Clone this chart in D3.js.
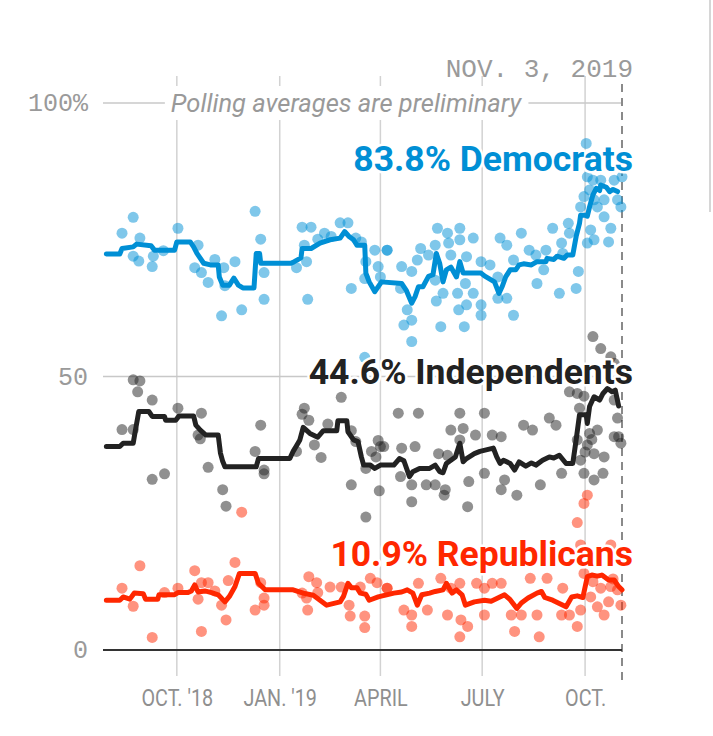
<!DOCTYPE html>
<html>
<head>
<meta charset="utf-8">
<script src="https://cdn.jsdelivr.net/npm/d3@7"></script>
<style>
  body { margin: 0; background: #fff; }
  svg { display: block; }
</style>
</head>
<body>
<div id="chart"></div>
<script>
// trend lines, [date, value]
var demTrend = [["2018-07-30",72.4],["2018-08-11",72.4],["2018-08-13",73.4],["2018-08-23",73.7],["2018-08-26",74.2],["2018-09-08",73.9],["2018-09-11",73.1],["2018-09-29",73.1],["2018-10-01",74.6],["2018-10-13",74.6],["2018-10-16",73.7],["2018-10-19",72.5],["2018-10-25",70.7],["2018-10-31",70.4],["2018-11-07",70.4],["2018-11-08",68.2],["2018-11-11",66.7],["2018-11-17",66.7],["2018-11-21",68],["2018-11-25",66.7],["2018-11-29",66.2],["2018-12-09",66.2],["2018-12-11",72.5],["2018-12-14",72.5],["2018-12-15",70.7],["2019-01-11",70.7],["2019-01-14",71],["2019-01-20",71.7],["2019-01-21",73.4],["2019-01-29",73.4],["2019-02-06",74.4],["2019-02-15",75],["2019-02-24",75.3],["2019-02-28",76.5],["2019-03-04",75.6],["2019-03-08",75],["2019-03-11",74],["2019-03-18",74],["2019-03-19",68.9],["2019-03-22",67.3],["2019-03-27",65.5],["2019-04-02",67.3],["2019-04-20",67],["2019-04-24",65.8],["2019-04-29",63.4],["2019-05-02",64.6],["2019-05-05",66.4],["2019-05-09",66.4],["2019-05-14",68.3],["2019-05-18",68.6],["2019-05-21",72.5],["2019-05-24",70.7],["2019-05-27",67.3],["2019-05-30",69.5],["2019-06-03",70],["2019-06-08",68.2],["2019-06-11",71],["2019-06-14",68.9],["2019-06-30",68.9],["2019-07-03",68.4],["2019-07-12",67.3],["2019-07-16",65.2],["2019-07-19",66.5],["2019-07-22",68.2],["2019-07-26",69.5],["2019-07-31",69.5],["2019-08-03",70.4],["2019-08-07",70.6],["2019-08-14",70.4],["2019-08-19",71],["2019-08-27",71],["2019-08-28",71.6],["2019-09-03",71.4],["2019-09-06",72],["2019-09-12",71.6],["2019-09-15",72.2],["2019-09-20",72.2],["2019-09-23",75.6],["2019-09-26",78],["2019-09-27",79.5],["2019-10-01",79.5],["2019-10-03",79.3],["2019-10-05",81],["2019-10-08",83.2],["2019-10-11",84.4],["2019-10-14",84],["2019-10-15",85],["2019-10-20",84.6],["2019-10-23",83.8],["2019-10-26",84.2],["2019-10-30",83.8]];

var indTrend = [["2018-07-30",37.2],["2018-08-11",37.2],["2018-08-14",37.8],["2018-08-23",37.8],["2018-08-25",40.2],["2018-08-28",43.6],["2018-09-06",43.6],["2018-09-09",42.7],["2018-09-20",42.7],["2018-09-21",42],["2018-09-30",42],["2018-10-03",42.8],["2018-10-16",42.8],["2018-10-18",41.1],["2018-10-22",40.2],["2018-10-27",39.3],["2018-11-07",39.3],["2018-11-09",36],["2018-11-11",34.5],["2018-11-13",33.5],["2018-12-11",33.5],["2018-12-13",35],["2019-01-10",35],["2019-01-13",36.3],["2019-01-19",38.4],["2019-01-22",40.7],["2019-01-28",39.6],["2019-02-04",38.9],["2019-02-09",40.1],["2019-02-21",40.1],["2019-02-22",41.9],["2019-03-02",41.9],["2019-03-03",39.9],["2019-03-08",38.4],["2019-03-12",38.1],["2019-03-15",35.3],["2019-03-17",33.8],["2019-03-23",33.8],["2019-03-27",33.2],["2019-04-01",33.8],["2019-04-13",33.8],["2019-04-18",35],["2019-04-22",34.6],["2019-04-27",31.7],["2019-04-30",32.6],["2019-05-06",33.2],["2019-05-15",33.2],["2019-05-20",33.8],["2019-05-24",32.6],["2019-05-27",32.4],["2019-05-30",34.1],["2019-06-07",35.3],["2019-06-11",37.8],["2019-06-14",34.4],["2019-06-17",35],["2019-06-24",35.9],["2019-06-29",36.3],["2019-07-11",36.9],["2019-07-14",35.3],["2019-07-17",34.1],["2019-07-20",34.7],["2019-07-26",34.1],["2019-07-30",32.9],["2019-08-03",34.4],["2019-08-09",33.6],["2019-08-14",34.2],["2019-08-18",33.8],["2019-08-24",34.7],["2019-08-30",35.3],["2019-09-03",35.1],["2019-09-08",35.6],["2019-09-14",34.1],["2019-09-20",34.1],["2019-09-23",38.4],["2019-09-26",43],["2019-10-02",43],["2019-10-03",41.4],["2019-10-05",44.5],["2019-10-09",46.3],["2019-10-14",45.7],["2019-10-17",46.9],["2019-10-21",47.8],["2019-10-25",47.2],["2019-10-28",47.5],["2019-10-31",44.6]];

var repTrend = [["2018-07-30",9.1],["2018-08-11",9.1],["2018-08-14",9.7],["2018-08-20",9.3],["2018-08-24",10.4],["2018-09-01",10.3],["2018-09-03",9.3],["2018-09-14",9.3],["2018-09-15",10.1],["2018-09-29",10.1],["2018-10-02",10.5],["2018-10-11",10.5],["2018-10-14",10.8],["2018-10-17",11.9],["2018-10-20",10.6],["2018-10-26",10.8],["2018-11-01",10.5],["2018-11-07",10.1],["2018-11-13",8.8],["2018-11-17",9.8],["2018-11-22",11.6],["2018-11-26",14],["2018-12-10",14],["2018-12-13",12.2],["2018-12-19",11],["2019-01-13",11],["2019-01-22",10.4],["2019-01-31",10],["2019-02-06",9.1],["2019-02-12",8.2],["2019-02-24",8.8],["2019-02-27",9.8],["2019-03-03",12.2],["2019-03-06",11.4],["2019-03-11",11.4],["2019-03-14",10.4],["2019-03-19",10.2],["2019-03-22",9.1],["2019-03-30",9.7],["2019-04-13",10.4],["2019-04-20",10.6],["2019-04-25",11],["2019-04-30",10.4],["2019-05-04",8.2],["2019-05-08",10.1],["2019-05-15",10.4],["2019-05-20",10.7],["2019-05-27",11],["2019-05-30",12.2],["2019-06-04",10.4],["2019-06-08",11],["2019-06-13",10.1],["2019-06-16",8.2],["2019-06-24",8.8],["2019-07-03",9.1],["2019-07-09",8.9],["2019-07-15",9.5],["2019-07-21",10.1],["2019-07-26",9.2],["2019-08-01",7.6],["2019-08-05",8.6],["2019-08-11",9.5],["2019-08-19",10.4],["2019-08-23",10.7],["2019-08-26",9.6],["2019-09-02",9.1],["2019-09-08",8.5],["2019-09-14",7.9],["2019-09-19",9.7],["2019-09-24",9.9],["2019-09-29",9.6],["2019-10-03",13.4],["2019-10-07",13.7],["2019-10-12",13.5],["2019-10-16",13.7],["2019-10-22",12.8],["2019-10-27",12.8],["2019-10-31",11.6],["2019-11-03",11]];

// individual polls, [date, value]
var demPolls = [["2018-08-23",79.1],["2018-08-13",76.2],["2018-08-29",75.3],["2018-08-23",72],["2018-08-28",71.1],["2018-09-10",72],["2018-09-09",70.1],["2018-09-19",73],["2018-10-02",77.1],["2018-10-20",74],["2018-10-17",69.9],["2018-10-23",69],["2018-10-29",67.2],["2018-11-04",71.4],["2018-11-12",69.9],["2018-11-13",66.6],["2018-11-22",71],["2018-11-10",61.1],["2018-11-28",62.2],["2018-12-10",80.2],["2018-12-15",75.1],["2018-12-18",69],["2018-12-18",64.1],["2019-01-16",69.9],["2019-01-21",77.3],["2019-01-29",77.3],["2019-01-23",74],["2019-01-25",71],["2019-01-26",64.1],["2019-02-04",75.1],["2019-02-10",76.2],["2019-02-16",75.6],["2019-02-24",78.1],["2019-03-03",78.1],["2019-03-10",75.3],["2019-03-15",74.6],["2019-03-19",71],["2019-03-27",73.1],["2019-03-30",70.1],["2019-04-01",68.2],["2019-03-18",67.9],["2019-03-06",66.1],["2019-04-07",73.1],["2019-03-18",53.5],
  ["2019-04-07",73.1],["2019-04-20",70.1],["2019-04-29",69.2],["2019-04-19",66.1],["2019-04-25",62.2],["2019-04-22",59.4],["2019-04-29",60.3],["2019-04-29",56.4],["2019-05-04",71.3],["2019-05-07",73.4],["2019-05-14",72.2],["2019-05-22",77.1],["2019-05-31",76.2],["2019-06-01",74.4],["2019-06-11",77.1],["2019-06-11",75],["2019-05-20",74],["2019-06-03",72.2],["2019-06-17",71.9],["2019-06-23",75.3],["2019-05-20",67.6],["2019-05-27",65.2],["2019-05-21",63.8],["2019-06-09",65.2],["2019-06-16",67],["2019-06-17",63.1],["2019-06-10",62.2],["2019-05-25",59.1],["2019-06-15",59.1],["2019-06-23",65.2],["2019-06-30",63.1],["2019-06-30",61.2],["2019-06-30",71],["2019-07-08",70.4],["2019-07-17",75.3],["2019-07-23",74],["2019-07-15",68.2],["2019-07-23",64.3],["2019-07-15",64.3],["2019-07-29",61.2],["2019-07-29",71.3],["2019-08-05",76.2],["2019-08-12",73.1],["2019-08-18",72.2],["2019-08-27",73.1],["2019-08-19",67],["2019-08-25",69.5],["2019-09-02",77.1],["2019-09-10",74.4],["2019-09-16",78],["2019-09-17",76.2],["2019-09-11",72.5],["2019-09-08",65.2],["2019-09-23",66.1],["2019-09-25",69.2],["2019-09-27",81],["2019-09-30",82.9],["2019-10-02",92.6],["2019-10-03",86.5],["2019-10-05",84.1],["2019-10-08",85.9],["2019-10-09",82.3],["2019-10-06",76.8],["2019-10-09",75],["2019-10-03",74.4],["2019-10-18",79.2],["2019-10-24",77.1],["2019-10-22",74.6],["2019-10-15",85.9],["2019-10-27",85.9],["2019-10-30",82.3],["2019-11-02",81],["2019-11-03",86.5],["2019-10-18",82.3],["2019-10-12",81]];

var indPolls = [["2018-08-23",49.4],["2018-08-29",49.2],["2018-08-27",47.2],["2018-09-09",45.7],["2018-08-13",40.3],["2018-08-23",40.3],["2018-09-09",31.2],["2018-09-20",32.2],["2018-10-02",44.2],["2018-10-23",43.3],["2018-10-20",39.3],["2018-10-22",38.6],["2018-10-29",33.4],["2018-11-11",29.3],["2018-11-14",26.3],["2018-12-15",41.1],["2018-12-10",36.3],["2018-12-18",32.9],["2018-12-18",32.2],["2019-01-23",44.2],["2019-01-21",43.1],["2019-01-27",42],["2019-01-16",36.3],["2019-02-01",37.5],["2019-02-07",35.2],["2019-02-13",41.3],["2019-02-25",46.2],["2019-03-06",40.1],["2019-03-06",30.2],["2019-03-10",38.1],["2019-03-19",33.2],["2019-03-19",24.3],["2019-03-30",38.3],["2019-03-24",36.3],["2019-03-28",35.3],["2019-04-04",37.2],["2019-03-31",29.1],
  ["2019-04-01",37.2],["2019-04-17",43.3],["2019-05-05",43.3],["2019-04-20",36.9],["2019-05-02",37.2],["2019-04-19",31.7],["2019-04-29",30.2],["2019-04-29",27.1],["2019-05-12",30.2],["2019-05-20",30.2],["2019-05-23",35.9],["2019-05-31",35.6],["2019-05-29",29.3],["2019-05-28",28.3],["2019-06-03",40.2],["2019-06-11",43.3],["2019-06-14",40.5],["2019-06-11",38.4],["2019-06-19",30.8],["2019-06-18",26.2],["2019-06-25",39.3],["2019-07-03",43.3],["2019-07-03",32.3],["2019-07-10",39.3],["2019-07-18",39],["2019-07-21",31.1],["2019-07-18",29.3],["2019-08-01",28.3],["2019-08-07",41.1],["2019-08-15",40.2],["2019-08-30",42.4],["2019-09-05",41.1],["2019-08-22",30.2],["2019-09-10",32.3],["2019-09-17",47.2],["2019-09-24",46.9],["2019-09-26",44.2],["2019-09-30",46.4],["2019-09-24",38.4],["2019-09-27",34.7],["2019-09-30",32.3],["2019-10-08",57.3],["2019-10-15",55.1],["2019-10-24",53.6],["2019-10-27",52.4],["2019-10-05",39.6],["2019-10-12",40.2],["2019-10-09",35.9],["2019-10-18",35.3],["2019-10-17",32.3],["2019-10-09",31.1],["2019-10-27",39],["2019-10-31",39],["2019-10-30",42.4],["2019-10-27",45.7],["2019-11-02",37.8],["2019-10-03",37.5],["2019-10-01",36.2],["2019-10-07",38.5]];

var repPolls = [["2018-08-29",15.4],["2018-08-13",11.3],["2018-08-23",8],["2018-09-09",2.3],["2018-09-20",10.5],["2018-10-02",11.3],["2018-10-17",14.5],["2018-10-23",12.3],["2018-10-20",9.3],["2018-10-29",12.3],["2018-11-04",10.8],["2018-11-10",8.2],["2018-11-16",12.7],["2018-11-22",16],["2018-11-14",5.5],["2018-10-23",3.4],["2018-12-10",7.3],["2018-12-15",12.3],["2018-12-18",9.5],["2018-12-18",8.2],["2018-11-28",25.2],["2019-01-27",13.4],["2019-02-03",12.3],["2019-01-21",10.4],["2019-01-25",9.5],["2019-01-26",7.3],["2019-02-04",10.5],["2019-02-15",11.5],["2019-02-25",11.5],["2019-03-04",8.2],["2019-03-05",6.2],["2019-03-18",6.2],["2019-03-18",4.1],["2019-03-14",11.5],["2019-03-23",13.1],["2019-03-29",12.3],["2019-04-07",11.3],
  ["2019-04-07",11.3],["2019-04-22",7.3],["2019-04-29",6.4],["2019-04-29",4.3],["2019-05-05",12.2],["2019-05-13",7.3],["2019-05-25",13.1],["2019-05-31",6.4],["2019-06-03",11.3],["2019-06-11",12.2],["2019-06-12",5.5],["2019-06-18",4.3],["2019-06-11",2.4],["2019-06-26",12.2],["2019-07-03",11.3],["2019-07-03",6.4],["2019-07-10",12.2],["2019-07-18",12.2],["2019-07-27",6.4],["2019-08-05",6.4],["2019-07-30",3.4],["2019-08-21",2.4],["2019-08-13",13.1],["2019-08-28",13.1],["2019-08-19",6.4],["2019-09-10",6.4],["2019-09-11",11.3],["2019-09-17",6.4],["2019-09-24",4.3],["2019-09-27",7.3],["2019-09-30",14],["2019-10-06",9.7],["2019-10-12",7.9],["2019-10-18",6.4],["2019-10-22",8.8],["2019-10-30",11],["2019-11-02",8.2],["2019-10-24",11.6],["2019-10-15",11.3],["2019-10-03",28.3],["2019-09-30",26.8],["2019-09-24",23.3],["2019-09-27",19.2],["2019-10-24",19.2],["2019-10-08",12.5],["2019-10-26",13]];

var series = [
  {name: "Democrats", last: "83.8%", color: "#008fd5", trend: demTrend, polls: demPolls, labelY: 171},
  {name: "Independents", last: "44.6%", color: "#222222", trend: indTrend, polls: indPolls, labelY: 384},
  {name: "Republicans", last: "10.9%", color: "#ff2700", trend: repTrend, polls: repPolls, labelY: 566}
];

var xTicks = ["2018-10-01", "2019-01-01", "2019-04-01", "2019-07-01", "2019-10-01"];
var xTickLabels = ["OCT. '18", "JAN. '19", "APRIL", "JULY", "OCT."];
var yTicks = [0, 50, 100];
var yTickLabels = ["0", "50", "100%"];

var W = 713, H = 736;
var parse = d3.timeParse("%Y-%m-%d");
var startDate = parse("2018-07-27"), endDate = parse("2019-11-03");

var x = d3.scaleTime().domain([startDate, endDate]).range([103, 622]);
var y = d3.scaleLinear().domain([0, 100]).range([650, 103]);

var svg = d3.select("#chart").append("svg")
    .attr("width", W)
    .attr("height", H);

// scroll edge on the right
svg.append("line")
    .attr("x1", 710).attr("x2", 710).attr("y1", 0).attr("y2", 212)
    .attr("stroke", "#c8c8c8").attr("stroke-width", 1.5);

// vertical grid
svg.append("g")
  .selectAll("line")
  .data(xTicks)
  .enter().append("line")
    .attr("x1", function(d) { return x(parse(d)); })
    .attr("x2", function(d) { return x(parse(d)); })
    .attr("y1", 76)
    .attr("y2", 676)
    .attr("stroke", "#d2d2d2")
    .attr("stroke-width", 1.5);

// horizontal grid at 50 and 100
svg.append("g")
  .selectAll("line")
  .data([50, 100])
  .enter().append("line")
    .attr("x1", 103)
    .attr("x2", 622)
    .attr("y1", function(d) { return y(d); })
    .attr("y2", function(d) { return y(d); })
    .attr("stroke", "#c8c8c8")
    .attr("stroke-width", 1.5);

// note on 100 line
var note = svg.append("text")
    .attr("x", 346)
    .attr("y", y(100) + 9)
    .attr("text-anchor", "middle")
    .attr("font-family", "Roboto")
    .attr("font-style", "italic")
    .attr("font-size", 25.5)
    .attr("fill", "#999")
    .text("Polling averages are preliminary");
var nb = note.node().getBBox();
svg.insert("rect", "text")
    .attr("x", nb.x - 6).attr("y", nb.y - 2)
    .attr("width", nb.width + 12).attr("height", nb.height + 4)
    .attr("fill", "#fff");

// end date marker
svg.append("line")
    .attr("x1", x(endDate)).attr("x2", x(endDate))
    .attr("y1", 84).attr("y2", 680)
    .attr("stroke", "#8a8a8a")
    .attr("stroke-width", 2)
    .attr("stroke-dasharray", "8,6");

svg.append("text")
    .attr("x", 633)
    .attr("y", 77)
    .attr("text-anchor", "end")
    .attr("font-family", "Liberation Mono")
    .attr("font-size", 26)
    .attr("fill", "#9a9a9a")
    .text("NOV. 3, 2019");

// polls
var line = d3.line()
    .x(function(d) { return x(parse(d[0])); })
    .y(function(d) { return y(d[1]); });

series.forEach(function(s) {
  svg.append("g")
    .selectAll("circle")
    .data(s.polls)
    .enter().append("circle")
      .attr("cx", function(d) { return x(parse(d[0])); })
      .attr("cy", function(d) { return y(d[1]); })
      .attr("r", 5.5)
      .attr("fill", s.color)
      .attr("fill-opacity", 0.5);
});

series.forEach(function(s) {
  svg.append("path")
    .datum(s.trend)
    .attr("d", line)
    .attr("fill", "none")
    .attr("stroke", s.color)
    .attr("stroke-width", 5)
    .attr("stroke-linejoin", "round")
    .attr("stroke-linecap", "round");
});

// baseline
svg.append("line")
    .attr("x1", 103).attr("x2", 622)
    .attr("y1", y(0)).attr("y2", y(0))
    .attr("stroke", "#333").attr("stroke-width", 2);

// series labels
series.forEach(function(s) {
  svg.append("text")
    .attr("x", 633)
    .attr("y", s.labelY)
    .attr("text-anchor", "end")
    .attr("font-family", "Roboto")
    .attr("font-weight", "bold")
    .attr("font-size", 35.5)
    .attr("fill", s.color)
    .attr("stroke", "#fff")
    .attr("stroke-width", 5)
    .attr("paint-order", "stroke")
    .attr("stroke-linejoin", "round")
    .text(s.last + " " + s.name);
});

// y axis labels
svg.append("g")
  .selectAll("text")
  .data(yTicks)
  .enter().append("text")
    .attr("x", 88)
    .attr("y", function(d) { return y(d) + 8; })
    .attr("text-anchor", "end")
    .attr("font-family", "Liberation Mono")
    .attr("font-size", 25)
    .attr("fill", "#9a9a9a")
    .text(function(d, i) { return yTickLabels[i]; });

// x axis
var xAxis = d3.axisBottom(x)
    .tickValues(xTicks.map(parse))
    .tickSize(0)
    .tickPadding(0)
    .tickFormat(function(d, i) { return xTickLabels[i]; });

var gx = svg.append("g")
    .attr("transform", "translate(0,706)")
    .call(xAxis);
gx.select(".domain").remove();
gx.selectAll("text")
    .attr("dy", 0)
    .attr("y", 0)
    .attr("font-family", "Roboto")
    .attr("font-size", 23)
    .attr("fill", "#8f8f8f")
    .attr("transform", "scale(0.86,1)");
</script>
</body>
</html>
